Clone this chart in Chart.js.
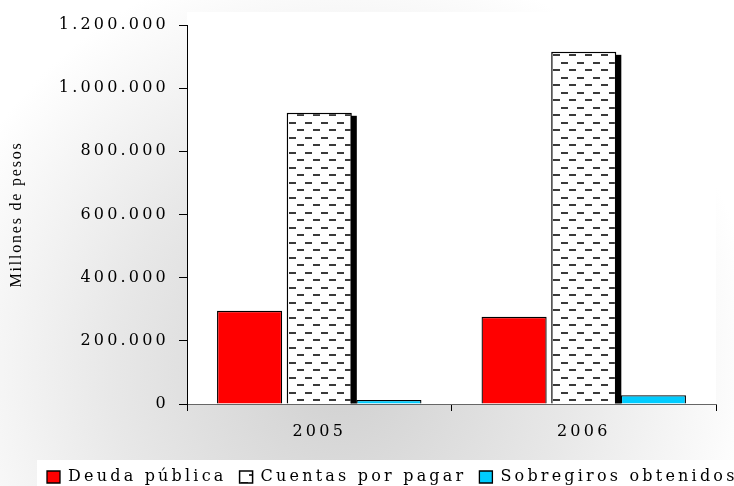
<!DOCTYPE html>
<html><head><meta charset="utf-8">
<script src="https://cdn.jsdelivr.net/npm/chart.js@4/dist/chart.umd.min.js"></script>
<style>html,body{margin:0;padding:0;background:#fff}canvas{display:block}</style>
</head><body>
<canvas id="c" width="734" height="486"></canvas>
<script>
const categories = ['2005', '2006'];
const seriesNames = ['Deuda pública', 'Cuentas por pagar', 'Sobregiros obtenidos'];
const deudaPublica = [295000, 276000];
const cuentasPorPagar = [922000, 1115000];
const sobregirosObtenidos = [13000, 27500];
const yTicks = [0, 200000, 400000, 600000, 800000, 1000000, 1200000];
const yAxisTitle = 'Millones de pesos';

const canvas = document.getElementById('c');
const ctx0 = canvas.getContext('2d');

function makePattern() {
  const t = document.createElement('canvas');
  t.width = 16; t.height = 15;
  const g = t.getContext('2d');
  g.fillStyle = '#ffffff'; g.fillRect(0, 0, 16, 15);
  g.fillStyle = '#3a3a3a';
  g.fillRect(1, 2, 7, 2);
  g.fillRect(9, 9, 7, 2);
  return ctx0.createPattern(t, 'repeat');
}
const dashPattern = makePattern();

function fmt(v) { return String(v).replace(/\B(?=(\d{3})+(?!\d))/g, '.'); }

const SPACING = '3.2px';
const spacingPlugin = {
  id: 'spacing',
  beforeUpdate(chart) { chart.ctx.letterSpacing = '0px'; },
  afterLayout(chart) {
    const lg = chart.legend;
    if (lg) {
      lg.left = 34; lg.right = 900;
      lg.top += 9; lg.bottom += 9;
    }
  },
  beforeDraw(chart) {
    chart.ctx.letterSpacing = SPACING;
    const y = chart.scales.y;
    if (y && !y._patchedTitle) {
      const orig = y.drawTitle;
      y.drawTitle = function (...a) {
        const c = this.ctx; c.save(); c.letterSpacing = '1.8px'; orig.apply(this, a); c.restore();
      };
      y._patchedTitle = true;
    }
  }
};

const bgPlugin = {
  id: 'bg',
  beforeDraw(chart) {
    const c = chart.ctx, W = chart.width, H = chart.height;
    c.save();
    c.fillStyle = '#ffffff'; c.fillRect(0, 0, W, H);
    const g = c.createRadialGradient(340, 370, 0, 340, 370, 420);
    g.addColorStop(0, '#d0d0d0');
    g.addColorStop(0.55, '#e8e8e8');
    g.addColorStop(1, '#ffffff');
    c.fillStyle = g; c.fillRect(0, 0, W, H);
    const a = chart.chartArea;
    c.fillStyle = '#ffffff';
    c.fillRect(a.left, a.top - 13, a.right - a.left, a.bottom - a.top + 13);
    const lg = chart.legend;
    if (lg) {
      c.fillRect(lg.left + 3, lg.top + 4, W, H);
    }
    c.restore();
  },
  beforeDatasetDraw(chart, args) {
    if (args.index !== 1) return;
    const c = chart.ctx;
    c.save();
    c.fillStyle = '#000000';
    args.meta.data.forEach(el => {
      const p = el.getProps(['x', 'y', 'base', 'width'], true);
      const right = p.x + p.width / 2;
      c.fillRect(right - 1, p.y + 3, 6, p.base - p.y - 3);
    });
    c.restore();
  }
};

new Chart(canvas, {
  type: 'bar',
  data: {
    labels: categories,
    datasets: [
      { label: seriesNames[0], data: deudaPublica, backgroundColor: '#ff0000', borderColor: '#000', borderWidth: 1.3 },
      { label: seriesNames[1], data: cuentasPorPagar, backgroundColor: dashPattern, borderColor: '#000', borderWidth: 1.5 },
      { label: seriesNames[2], data: sobregirosObtenidos, backgroundColor: '#00ccff', borderColor: '#000', borderWidth: 1.3 }
    ]
  },
  options: {
    responsive: false,
    animation: false,
    devicePixelRatio: 1,
    categoryPercentage: 0.79,
    barPercentage: 0.935,
    layout: { padding: { top: 25, right: 18, left: 0, bottom: 0 } },
    plugins: {
      legend: {
        position: 'bottom',
        align: 'start',
        labels: {
          font: { family: 'DejaVu Serif', size: 16 },
          color: '#000',
          boxWidth: 13,
          boxHeight: 12,
          padding: 13
        }
      },
      tooltip: { enabled: false }
    },
    scales: {
      x: {
        grid: { offset: true, drawOnChartArea: false, drawTicks: true, tickLength: 7, color: '#000' },
        border: { color: '#666', width: 1 },
        ticks: { font: { family: 'DejaVu Serif', size: 16 }, color: '#000', padding: 11, maxRotation: 0, autoSkip: false },
        afterFit(scale) {
          const lgH = scale.chart.legend ? scale.chart.legend.height : 0;
          scale.height = 486 - 404 - lgH;
        }
      },
      y: {
        min: 0, max: 1200000,
        afterBuildTicks(scale) { scale.ticks = yTicks.map(v => ({ value: v })); },
        grid: { drawOnChartArea: false, drawTicks: true, tickLength: 8, color: '#000' },
        border: { color: '#000', width: 1 },
        ticks: { font: { family: 'DejaVu Serif', size: 16 }, color: '#000', padding: 10, callback: v => fmt(v) },
        title: { display: true, text: yAxisTitle, font: { family: 'Liberation Serif', size: 16 }, color: '#000', padding: { top: 7, bottom: 0 } },
        afterFit(scale) { scale.width = 187; }
      }
    }
  },
  plugins: [spacingPlugin, bgPlugin]
});
</script>
</body></html>
